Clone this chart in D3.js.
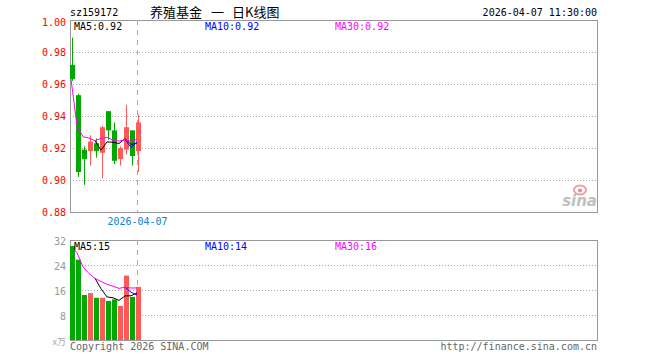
<!DOCTYPE html>
<html>
<head>
<meta charset="utf-8">
<script src="https://cdn.jsdelivr.net/npm/d3@7/dist/d3.min.js"></script>
<style>
html,body{margin:0;padding:0;background:#fff;}
svg{display:block;}
text{font-family:"DejaVu Sans Mono",monospace;font-size:10px;}
</style>
</head>
<body>
<svg id="chart" width="660" height="360"></svg>
<script>
// ---- data ----
const dates = ["2026-03-20","2026-03-23","2026-03-24","2026-03-25","2026-03-26","2026-03-27",
               "2026-03-30","2026-03-31","2026-04-01","2026-04-02","2026-04-03","2026-04-07"];
const opens  = [0.972,0.953,0.919,0.918,0.923,0.917,0.943,0.931,0.913,0.919,0.931,0.918];
const highs  = [0.989,0.954,0.921,0.928,0.926,0.934,0.943,0.936,0.921,0.947,0.931,0.941];
const lows   = [0.962,0.902,0.897,0.909,0.914,0.901,0.925,0.910,0.909,0.916,0.909,0.905];
const closes = [0.963,0.905,0.913,0.924,0.918,0.933,0.931,0.912,0.920,0.933,0.915,0.936];
const volumes = [30.1,25.7,14.4,15.0,13.5,13.5,12.5,13.0,10.9,20.6,13.8,17.0]; // 万
const priceTicks = [1.00,0.98,0.96,0.94,0.92,0.90,0.88];
const volTicks = [32,24,16,8];
const priceLegend = ["MA5:0.92","MA10:0.92","MA30:0.92"];
const volLegend = ["MA5:15","MA10:14","MA30:16"];
const markedDate = "2026-04-07";
const code = "sz159172";
const titleParts = ["养殖基金","一","日K线图"];
const stamp = "2026-04-07 11:30:00";

// ---- layout ----
const L = 70, R = 598;
const pTop = 20, pBot = 212, vTop = 240, vBot = 340;
const nSlots = 88;
const RED = "#ff5959", GREEN = "#00a800";
const maColors = ["#000000","#0000ff","#ff00ff"];

const svg = d3.select("#chart");
const x = d3.scaleBand().domain(d3.range(nSlots)).range([L, R]).padding(0);
const yP = d3.scaleLinear().domain([0.88, 1.00]).range([pBot, pTop]);
const yV = d3.scaleLinear().domain([0, 32]).range([vBot, vTop]);
const cw = 5;

function ma(arr, n){
  return arr.map((v,i)=>{
    if(n===null){ const s=arr.slice(0,i+1); return d3.mean(s); }
    if(i<n-1) return null;
    return d3.mean(arr.slice(i-n+1,i+1));
  });
}
const mx = i => x(i) + 1;

// ---- frames & grids ----
function frame(top, bot, ticks, yScale){
  const g = svg.append("g");
  g.selectAll("line.grid").data(ticks).enter().append("line")
    .attr("x1", L).attr("x2", R)
    .attr("y1", d=>Math.round(yScale(d))+0.5).attr("y2", d=>Math.round(yScale(d))+0.5)
    .attr("stroke", "#aaa").attr("stroke-dasharray","1,2");
  g.append("rect").attr("x", L+0.5).attr("y", top+0.5)
    .attr("width", R-L-1).attr("height", bot-top)
    .attr("fill","none").attr("stroke","#999");
}
frame(pTop, pBot, priceTicks.slice(1,-1), yP);
frame(vTop, vBot, volTicks.slice(1), yV);

// dashed date marker
const mi = dates.indexOf(markedDate);
const dxm = x(mi) + 1.5;
[[pTop,pBot],[vTop,vBot]].forEach(([a,b])=>{
  svg.append("line").attr("x1",dxm).attr("x2",dxm).attr("y1",a).attr("y2",b)
    .attr("stroke","#aaa").attr("stroke-dasharray","5,5");
});

// sina watermark
const wm = svg.append("g");
wm.append("ellipse").attr("cx",580).attr("cy",190).attr("rx",6).attr("ry",4.5)
  .attr("fill","none").attr("stroke","#f0a0a0").attr("stroke-width",2);
wm.append("circle").attr("cx",580).attr("cy",190.5).attr("r",2).attr("fill","#e88");
wm.append("text").attr("x",597).attr("y",206).attr("text-anchor","end")
  .style("font-family","DejaVu Sans").style("font-size","15px").style("font-style","italic")
  .style("font-weight","bold").attr("fill","#c0c0c0").text("sina");

// ---- candles ----
const cg = svg.append("g");
dates.forEach((d,i)=>{
  const up = closes[i] >= opens[i];
  const col = up ? RED : GREEN;
  cg.append("line").attr("x1", x(i)+2.5).attr("x2", x(i)+2.5)
    .attr("y1", yP(highs[i])).attr("y2", yP(lows[i])).attr("stroke", col);
  const t = yP(Math.max(opens[i],closes[i])), b = yP(Math.min(opens[i],closes[i]));
  cg.append("rect").attr("x", x(i)).attr("y", t).attr("width", cw)
    .attr("height", Math.max(1, b-t)).attr("fill", col);
});

// ---- MA lines ----
function drawMA(arr, yScale){
  [5,10,null].forEach((n,k)=>{
    const vals = ma(arr, n);
    const line = d3.line().defined(v=>v!==null).x((v,i)=>mx(i)).y(v=>yScale(v));
    svg.append("path").datum(vals).attr("d", line)
      .attr("fill","none").attr("stroke", maColors[k]).attr("stroke-width",1);
  });
}
drawMA(closes, yP);

// ---- volume bars ----
svg.append("g").selectAll("rect").data(volumes).enter().append("rect")
  .attr("x",(v,i)=>x(i)).attr("width",cw)
  .attr("y", v=>yV(v)).attr("height", v=>vBot - yV(v))
  .attr("fill",(v,i)=> closes[i]>=opens[i] ? RED : GREEN);
drawMA(volumes, yV);

// ---- axes labels ----
svg.append("g").selectAll("text").data(priceTicks).enter().append("text")
  .attr("x", 66).attr("y", d=> yP(d) + (d===1.00 ? 2 : 0)).attr("dy","0.36em")
  .attr("text-anchor","end").attr("fill","#ff0000").text(d=>d.toFixed(2));
svg.append("g").selectAll("text").data(volTicks).enter().append("text")
  .attr("x", 66).attr("y", d=> yV(d) + 1).attr("dy","0.36em")
  .attr("text-anchor","end").attr("fill","#999").text(d=>d);
svg.append("text").attr("x",66).attr("y",345).attr("text-anchor","end")
  .attr("fill","#aaa").style("font-family","'Noto Sans CJK SC',sans-serif").style("font-size","9px").text("x万");

// date label
svg.append("text").attr("x", dxm).attr("y", 225).attr("text-anchor","middle")
  .attr("fill","#0b80d0").text(markedDate);

// ---- titles ----
svg.append("text").attr("x",70).attr("y",16).attr("fill","#000").text(code);
const tt = svg.append("text").attr("y",17).attr("fill","#000")
  .style("font-family","'Noto Sans CJK SC',sans-serif").style("font-size","13px");
[150,211,232].forEach((px,k)=> tt.append("tspan").attr("x",px).text(titleParts[k]));
svg.append("text").attr("x",597).attr("y",16).attr("text-anchor","end").attr("fill","#000").text(stamp);

// legends
const legX = [74,205,335];
priceLegend.forEach((t,k)=> svg.append("text").attr("x",legX[k]).attr("y",29.5).attr("fill",maColors[k]).text(t));
volLegend.forEach((t,k)=> svg.append("text").attr("x",legX[k]).attr("y",249.5).attr("fill",maColors[k]).text(t));

// footer
svg.append("text").attr("x",70).attr("y",350).attr("fill","#666").text("Copyright 2026 SINA.COM");
svg.append("text").attr("x",597).attr("y",350).attr("text-anchor","end").attr("fill","#666").text("http://finance.sina.com.cn");
</script>
</body>
</html>
